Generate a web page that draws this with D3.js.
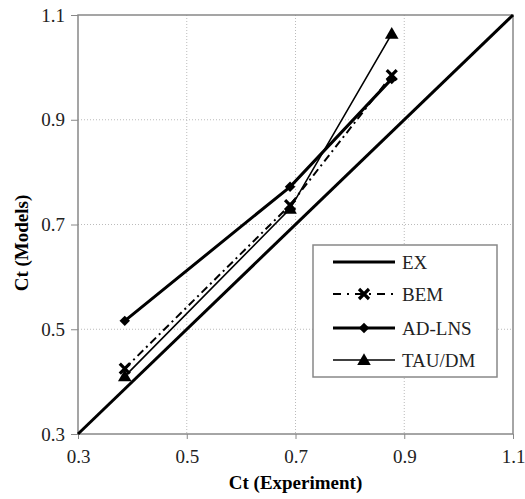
<!DOCTYPE html>
<html>
<head>
<meta charset="utf-8">
<script src="https://cdn.jsdelivr.net/npm/d3@7"></script>
<style>
  body { margin: 0; background: #fff; }
</style>
</head>
<body>
<svg width="525" height="499"></svg>
<script>
const seriesNames = ['EX', 'BEM', 'AD-LNS', 'TAU/DM'];
const ctExperiment = [0.386, 0.69, 0.877];
const exLine = [[0.3, 0.3], [1.1, 1.1]];
const bemValues = [0.425, 0.737, 0.985];
const adlnsValues = [0.516, 0.772, 0.978];
const tauValues = [0.41, 0.73, 1.064];
const tickValues = [0.3, 0.5, 0.7, 0.9, 1.1];

const serif = '"Liberation Serif", "Times New Roman", Times, serif';

const svg = d3.select('svg');
const margin = { top: 15, right: 12, bottom: 65, left: 78 };
const width = +svg.attr('width');
const height = +svg.attr('height');
const innerWidth = width - margin.left - margin.right;
const innerHeight = height - margin.top - margin.bottom;

const xScale = d3.scaleLinear().domain([0.3, 1.1]).range([0, innerWidth]);
const yScale = d3.scaleLinear().domain([0.3, 1.1]).range([innerHeight, 0]);

const g = svg.append('g')
    .attr('transform', `translate(${margin.left},${margin.top})`);

// grid
g.append('g').selectAll('line').data(tickValues.slice(1, -1)).enter()
    .append('line')
    .attr('x1', d => xScale(d)).attr('x2', d => xScale(d))
    .attr('y1', 0).attr('y2', innerHeight)
    .attr('stroke', '#bbb').attr('stroke-dasharray', '1,2');
g.append('g').selectAll('line').data(tickValues.slice(1, -1)).enter()
    .append('line')
    .attr('y1', d => yScale(d)).attr('y2', d => yScale(d))
    .attr('x1', 0).attr('x2', innerWidth)
    .attr('stroke', '#bbb').attr('stroke-dasharray', '1,2');

// axes
const yAxisG = g.append('g')
    .call(d3.axisLeft(yScale).tickValues(tickValues).tickFormat(d3.format('.1f')).tickSize(7).tickPadding(6));
const xAxisG = g.append('g')
    .attr('transform', `translate(0,${innerHeight})`)
    .call(d3.axisBottom(xScale).tickValues(tickValues).tickFormat(d3.format('.1f')).tickSize(5).tickPadding(11));
[xAxisG, yAxisG].forEach(a => {
    a.attr('font-family', serif).attr('font-size', 19);
    a.select('.domain').remove();
    a.selectAll('.tick line').attr('stroke', '#888');
    a.selectAll('text')
        .style('font-family', serif)
        .style('font-size', '19px')
        .attr('fill', '#222');
});

// frame
g.append('rect')
    .attr('width', innerWidth).attr('height', innerHeight)
    .attr('fill', 'none').attr('stroke', '#888').attr('stroke-width', 1.5);

const line = d3.line().x(d => xScale(d[0])).y(d => yScale(d[1]));

// EX
g.append('path').datum(exLine).attr('d', line)
    .attr('fill', 'none').attr('stroke', '#000').attr('stroke-width', 3);

const pairs = vals => ctExperiment.map((x, i) => [x, vals[i]]);

// BEM
g.append('path').datum(pairs(bemValues)).attr('d', line)
    .attr('fill', 'none').attr('stroke', '#000').attr('stroke-width', 2)
    .attr('stroke-dasharray', '8,4,2,4');
// AD-LNS
g.append('path').datum(pairs(adlnsValues)).attr('d', line)
    .attr('fill', 'none').attr('stroke', '#000').attr('stroke-width', 3);
// TAU/DM
g.append('path').datum(pairs(tauValues)).attr('d', line)
    .attr('fill', 'none').attr('stroke', '#000').attr('stroke-width', 1.6);

const crossPath = 'M-5,-5L5,5M5,-5L-5,5';
const diamond = d3.symbol().type(d3.symbolDiamond2).size(70)();
const triangle = d3.symbol().type(d3.symbolTriangle).size(80)();

const drawCross = (sel, x, y) => sel.append('path').attr('d', crossPath)
    .attr('transform', `translate(${x},${y})`)
    .attr('stroke', '#000').attr('stroke-width', 3.2).attr('fill', 'none');
const drawDiamond = (sel, x, y) => sel.append('path').attr('d', diamond)
    .attr('transform', `translate(${x},${y})`).attr('fill', '#000');
const drawTriangle = (sel, x, y) => sel.append('path').attr('d', triangle)
    .attr('transform', `translate(${x},${y + 1})`).attr('fill', '#000');

pairs(bemValues).forEach(d => drawCross(g, xScale(d[0]), yScale(d[1])));
pairs(adlnsValues).forEach(d => drawDiamond(g, xScale(d[0]), yScale(d[1])));
pairs(tauValues).forEach(d => drawTriangle(g, xScale(d[0]), yScale(d[1])));

// axis labels
svg.append('text')
    .attr('x', margin.left + innerWidth / 2).attr('y', 489)
    .style('font-family', serif)
    .style('text-anchor', 'middle').style('font-size', '19px').style('font-weight', 'bold')
    .text('Ct (Experiment)');
svg.append('text')
    .attr('transform', 'rotate(-90)')
    .attr('x', -243).attr('y', 28)
    .style('font-family', serif)
    .style('text-anchor', 'middle').style('font-size', '19px').style('font-weight', 'bold')
    .text('Ct (Models)');

// legend
const lg = svg.append('g').attr('transform', 'translate(313,245)');
lg.append('rect').attr('width', 184).attr('height', 132)
    .attr('fill', '#fff').attr('stroke', '#888').attr('stroke-width', 1.5);
const rowY = [17, 49, 83, 115];
const styles = [
    { w: 3, dash: null, mark: null },
    { w: 2, dash: '8,6,2,6', mark: drawCross },
    { w: 3, dash: null, mark: drawDiamond },
    { w: 1.6, dash: null, mark: drawTriangle }
];
seriesNames.forEach((name, i) => {
    const y = rowY[i];
    const l = lg.append('line').attr('x1', 20).attr('x2', 82).attr('y1', y).attr('y2', y)
        .attr('stroke', '#000').attr('stroke-width', styles[i].w);
    if (styles[i].dash) l.attr('stroke-dasharray', styles[i].dash);
    if (styles[i].mark) styles[i].mark(lg, 51, y);
    lg.append('text').attr('x', 89).attr('y', y + 7)
        .style('font-family', serif)
        .style('font-size', '19px').attr('fill', '#222').text(name);
});
</script>
</body>
</html>
